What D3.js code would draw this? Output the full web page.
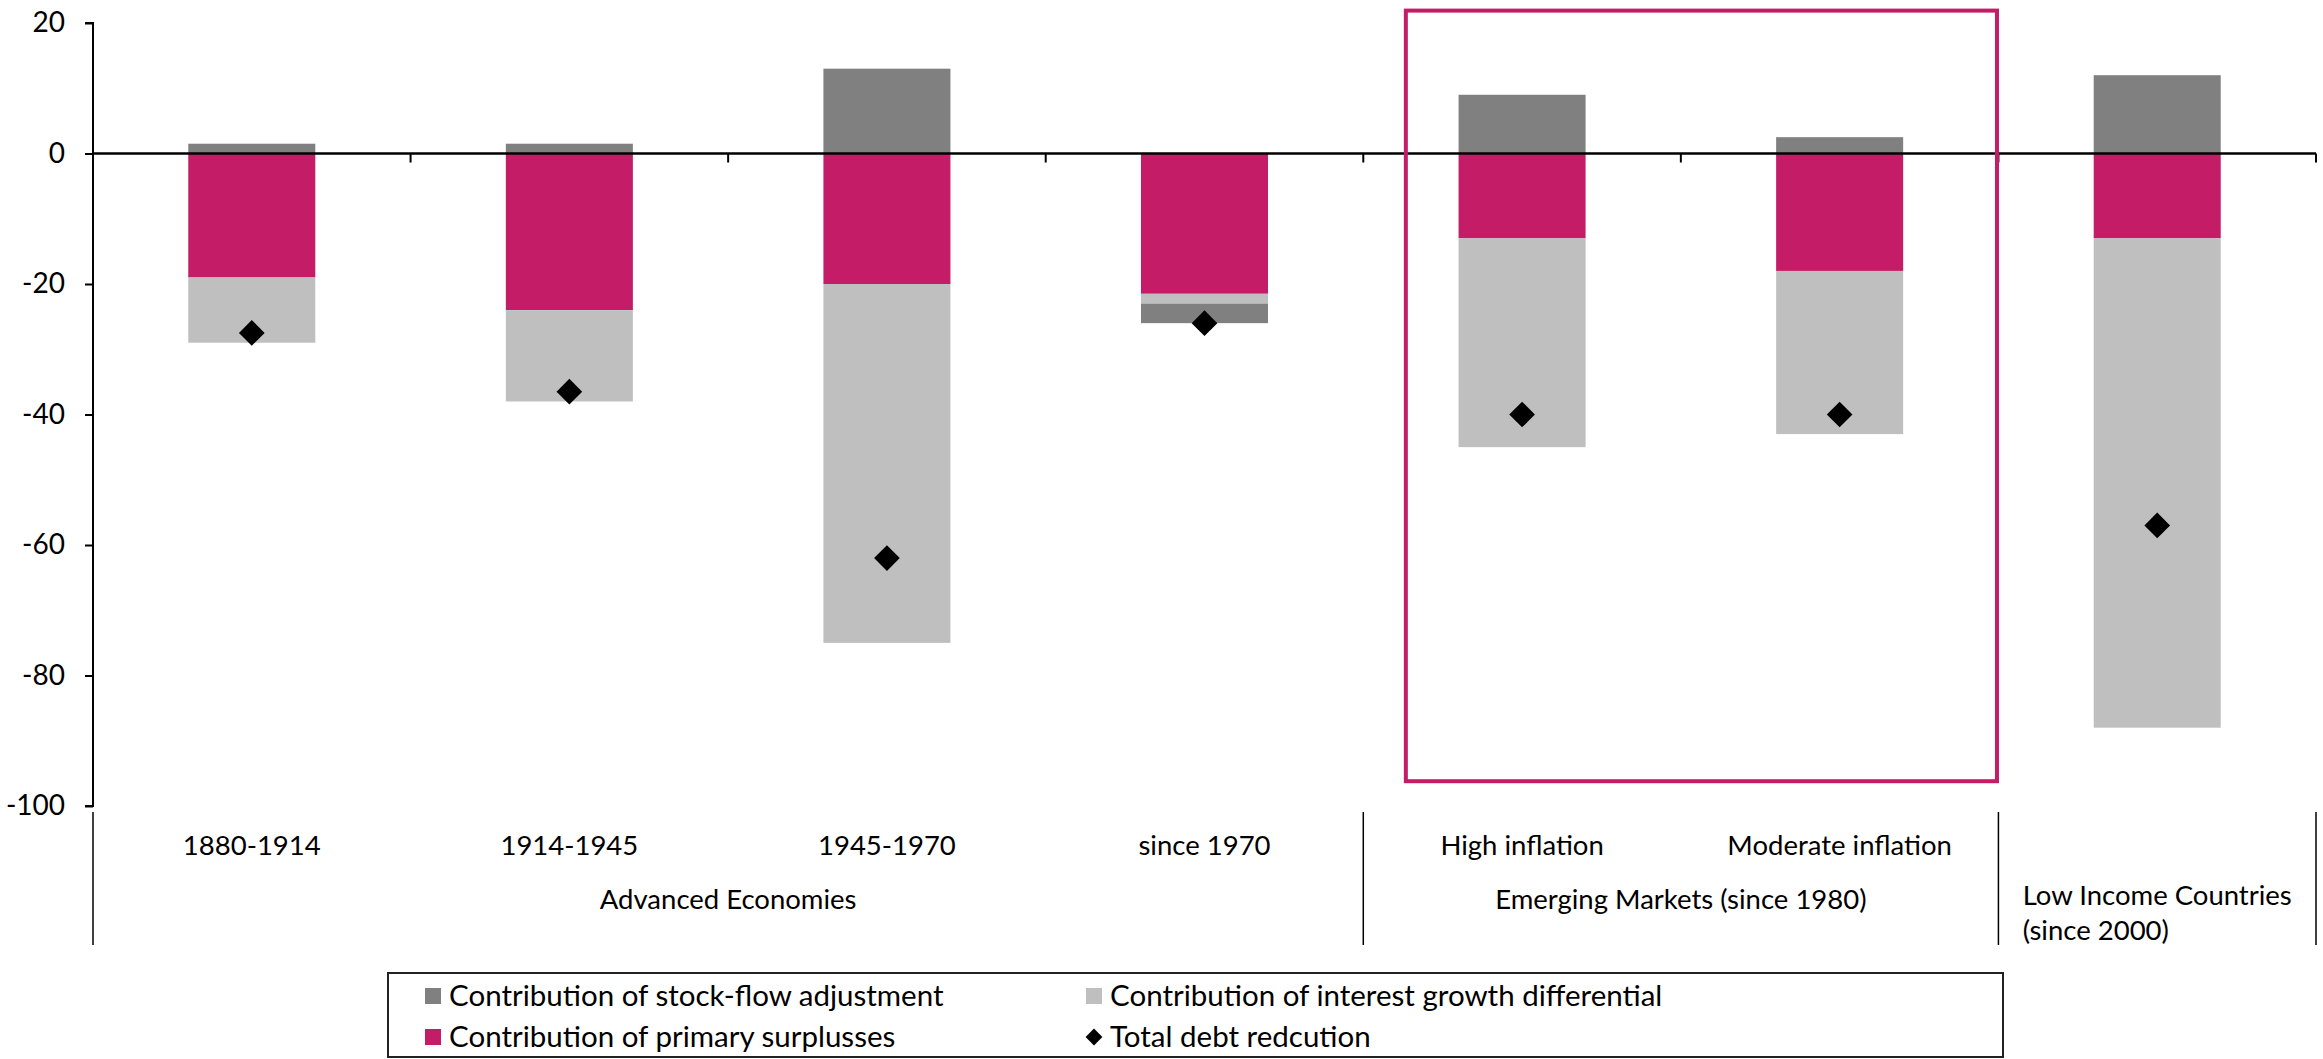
<!DOCTYPE html>
<html>
<head>
    <meta charset="utf-8">
    <title>Debt reduction decomposition</title>
    <script src="https://d3js.org/d3.v7.min.js"></script>
    <style>
        body {
            margin: 0;
            background: #fff;
            font-family: Lato, "Open Sans", sans-serif;
        }
        svg text {
            font-family: Lato, "Open Sans", sans-serif;
            fill: #000;
        }
    </style>
</head>
<body>
    <div id="chart"></div>

    <script>
        // data
        const categories = ["1880-1914", "1914-1945", "1945-1970", "since 1970", "High inflation", "Moderate inflation", "Low Income Countries (since 2000)"];
        const categoryLines = [["1880-1914"], ["1914-1945"], ["1945-1970"], ["since 1970"], ["High inflation"], ["Moderate inflation"], []];
        const stockFlow = [1.5, 1.5, 13, -3, 9, 2.5, 12];
        const primary = [-19, -24, -20, -21.5, -13, -18, -13];
        const interest = [-10, -14, -55, -1.5, -32, -25, -75];
        const totalReduction = [-27.5, -36.5, -62, -26, -40, -40, -57];
        const groups = [
            {name: ["Advanced Economies"], from: 0, to: 3},
            {name: ["Emerging Markets (since 1980)"], from: 4, to: 5},
            {name: ["Low Income Countries", "(since 2000)"], from: 6, to: 6}
        ];
        const yTicks = [20, 0, -20, -40, -60, -80, -100];
        const seriesNames = ["Contribution of stock-flow adjustment", "Contribution of interest growth differential",
                             "Contribution of primary surplusses", "Total debt redcution"];

        const width = 2323, height = 1059;
        const margin = {top: 23, right: 7, bottom: 253, left: 93};
        const colors = {stock: "#808080", interest: "#bfbfbf", primary: "#c41c66"};

        var svg = d3.select("#chart").append("svg")
            .attr("width", width)
            .attr("height", height);

        var xScale = d3.scaleBand()
            .domain(categories)
            .range([margin.left, width - margin.right])
            .paddingInner(0.6)
            .paddingOuter(0.3);
        var yScale = d3.scaleLinear()
            .domain([-100, 20])
            .range([height - margin.bottom, margin.top]);
        var step = xScale.step();

        // stack: positives from zero up, negatives primary -> interest -> stock-flow
        var segments = [];
        categories.forEach((c, i) => {
            var pos = 0, neg = 0;
            [["primary", primary[i]], ["interest", interest[i]], ["stock", stockFlow[i]]].forEach(([k, v]) => {
                if (v >= 0) { segments.push({cat: c, key: k, y0: pos, y1: pos + v}); pos += v; }
                else { segments.push({cat: c, key: k, y0: neg + v, y1: neg}); neg += v; }
            });
        });

        svg.selectAll(".bar")
            .data(segments)
            .enter().append("rect")
            .attr("class", "bar")
            .attr("x", d => xScale(d.cat))
            .attr("y", d => yScale(d.y1))
            .attr("width", xScale.bandwidth())
            .attr("height", d => yScale(d.y0) - yScale(d.y1))
            .attr("fill", d => colors[d.key]);

        // y axis
        var yAxis = svg.append("g")
            .attr("transform", "translate(" + margin.left + ",0)")
            .call(d3.axisLeft(yScale).tickValues(yTicks).tickSize(8).tickPadding(20).tickFormat(d => String(d)));
        yAxis.select(".domain").attr("stroke-width", 2).attr("d", "M-8," + yScale(20) + "H0V" + yScale(-100) + "H-8");
        yAxis.selectAll(".tick line").attr("stroke-width", 2);
        yAxis.selectAll("text").style("font-size", "28px").style("font-family", "Lato, sans-serif");

        // zero line with category boundary ticks
        var y0 = yScale(0);
        var zero = svg.append("g");
        zero.append("line")
            .attr("x1", margin.left).attr("x2", width - margin.right)
            .attr("y1", y0).attr("y2", y0)
            .attr("stroke", "#000").attr("stroke-width", 2.5);
        d3.range(1, categories.length + 1).forEach(i => {
            var x = margin.left + i * step;
            zero.append("line")
                .attr("x1", x).attr("x2", x)
                .attr("y1", y0).attr("y2", y0 + 9)
                .attr("stroke", "#000").attr("stroke-width", 2);
        });

        // diamonds
        svg.selectAll(".total")
            .data(categories)
            .enter().append("path")
            .attr("class", "total")
            .attr("d", d3.symbol().type(d3.symbolDiamond2).size(420))
            .attr("transform", (d, i) => "translate(" + (xScale(d) + xScale.bandwidth() / 2) + "," + yScale(totalReduction[i]) + ")")
            .attr("fill", "#000");

        // highlight box around emerging markets
        svg.append("rect")
            .attr("x", xScale("High inflation") - 0.166 * step)
            .attr("y", yScale(21.9))
            .attr("width", 2 * step - 44)
            .attr("height", yScale(-96.2) - yScale(21.9))
            .attr("fill", "none")
            .attr("stroke", colors.primary)
            .attr("stroke-width", 4);

        // category labels, two levels
        var labelTop = 812, labelBottom = 945;
        var sepIdx = [0, 4, 6, 7];
        sepIdx.forEach(i => {
            var x = margin.left + i * step;
            svg.append("line")
                .attr("x1", x).attr("x2", x)
                .attr("y1", labelTop).attr("y2", labelBottom)
                .attr("stroke", "#000").attr("stroke-width", 1.5);
        });

        categories.forEach((c, i) => {
            categoryLines[i].forEach(t => {
                svg.append("text")
                    .attr("x", xScale(c) + xScale.bandwidth() / 2)
                    .attr("y", 855)
                    .attr("text-anchor", "middle")
                    .style("font-size", "27.5px")
                    .text(t);
            });
        });

        groups.forEach(g => {
            var cx = (margin.left + g.from * step + margin.left + (g.to + 1) * step) / 2;
            if (g.name.length === 1) {
                svg.append("text")
                    .attr("x", cx).attr("y", 909)
                    .attr("text-anchor", "middle")
                    .style("font-size", "27.5px")
                    .text(g.name[0]);
            } else {
                var first = svg.append("text").attr("y", 905).style("font-size", "27.5px").text(g.name[0]);
                var w = first.node().getComputedTextLength();
                first.attr("x", cx - w / 2);
                svg.append("text").attr("x", cx - w / 2).attr("y", 940).style("font-size", "27.5px").text(g.name[1]);
            }
        });

        // legend
        var legend = svg.append("g");
        legend.append("rect")
            .attr("x", 388).attr("y", 973)
            .attr("width", 1615).attr("height", 84)
            .attr("fill", "#fff")
            .attr("stroke", "#222").attr("stroke-width", 2);

        var legendItems = [
            {name: seriesNames[0], kind: "stock", col: 0, row: 0},
            {name: seriesNames[1], kind: "interest", col: 1, row: 0},
            {name: seriesNames[2], kind: "primary", col: 0, row: 1},
            {name: seriesNames[3], kind: "total", col: 1, row: 1}
        ];
        var colX = [425, 1086], rowY = [996, 1037];
        legendItems.forEach(it => {
            var x = colX[it.col], y = rowY[it.row];
            if (it.kind === "total") {
                legend.append("path")
                    .attr("d", d3.symbol().type(d3.symbolDiamond2).size(180))
                    .attr("transform", "translate(" + (x + 8) + "," + y + ")")
                    .attr("fill", "#000");
            } else {
                legend.append("rect")
                    .attr("x", x).attr("y", y - 8)
                    .attr("width", 16).attr("height", 16)
                    .attr("fill", colors[it.kind]);
            }
            legend.append("text")
                .attr("x", x + 24).attr("y", y + 10)
                .style("font-size", "29.5px")
                .text(it.name);
        });
    </script>
</body>
</html>
